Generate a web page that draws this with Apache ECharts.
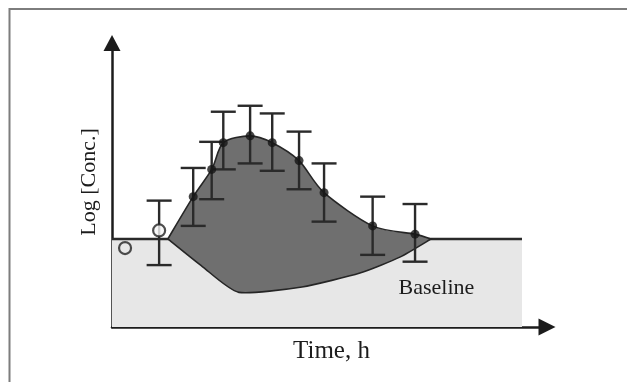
<!DOCTYPE html>
<html>
<head>
<meta charset="utf-8">
<script src="https://cdn.jsdelivr.net/npm/echarts@6.0.0/dist/echarts.min.js"></script>
<style>
html,body{margin:0;padding:0;background:#ffffff;}
#chart{width:627px;height:382px;}
</style>
</head>
<body>
<div id="chart"></div>
<script>
// ---- Data (arbitrary units) ----
const time    = [1.30, 2.24, 2.75, 3.07, 3.81, 4.42, 5.16, 5.85, 7.19, 8.36];
const conc    = [3.40, 4.59, 5.55, 6.49, 6.73, 6.49, 5.86, 4.73, 3.56, 3.27];
const errHigh = [4.45, 5.60, 6.52, 7.58, 7.79, 7.52, 6.88, 5.76, 4.59, 4.33];
const errLow  = [2.18, 3.56, 4.50, 5.55, 5.76, 5.50, 4.85, 3.71, 2.54, 2.30];

const predoseTime = [0.36];
const predoseConc = [2.78];

const baselineLevel = 3.10;
const baselineStart = 0;
const baselineEnd   = 11.31;

// Shaded response region (upper edge through the means, lower edge below baseline)
const regionUpperTime = [1.54, 2.24, 2.75, 3.07, 3.81, 4.42, 5.16, 5.85, 7.19, 8.36, 8.80];
const regionUpperConc = [3.10, 4.59, 5.55, 6.49, 6.73, 6.49, 5.86, 4.73, 3.56, 3.27, 3.10];
const regionLowerTime = [1.54, 2.50, 3.50, 5.24, 6.84, 7.94, 8.80];
const regionLowerConc = [3.10, 2.12, 1.22, 1.41, 1.90, 2.46, 3.10];

const xTitle = 'Time, h';
const yTitle = 'Log [Conc.]';
const baselineLabel = 'Baseline';
const baselineLabelPos = [8.95, 1.38];

const FONT = "'Liberation Serif', 'Times New Roman', serif";
const INK = '#1c1c1c';

// Catmull-Rom spline through pixel points -> SVG path segment commands
function splinePath(pts, moveFirst, tension) {
  let d = (moveFirst ? 'M' : 'L') + pts[0][0] + ' ' + pts[0][1];
  for (let i = 0; i < pts.length - 1; i++) {
    const p0 = pts[i - 1] || pts[i];
    const p1 = pts[i];
    const p2 = pts[i + 1];
    const p3 = pts[i + 2] || pts[i + 1];
    const t = tension;
    const c1x = p1[0] + (p2[0] - p0[0]) / 6 * t;
    const c1y = p1[1] + (p2[1] - p0[1]) / 6 * t;
    const c2x = p2[0] - (p3[0] - p1[0]) / 6 * t;
    const c2y = p2[1] - (p3[1] - p1[1]) / 6 * t;
    d += ' C' + c1x + ' ' + c1y + ' ' + c2x + ' ' + c2y + ' ' + p2[0] + ' ' + p2[1];
  }
  return d;
}

const chart = echarts.init(document.getElementById('chart'), null, {renderer: 'canvas'});

const option = {
  backgroundColor: '#ffffff',
  animation: false,
  grid: {left: 112, right: 80, top: 43, bottom: 55, containLabel: false, outerBoundsMode: 'none'},
  xAxis: {
    type: 'value', min: 0, max: 12,
    name: xTitle, nameLocation: 'middle', nameGap: 12,
    nameTextStyle: {fontFamily: FONT, fontSize: 25, color: INK, padding: [0, 0, 0, 4]},
    axisLine: {show: true, onZero: false, symbol: ['none', 'triangle'], symbolSize: [17, 17],
      lineStyle: {color: INK, width: 2.5}},
    axisTick: {show: false}, axisLabel: {show: false}, splitLine: {show: false}
  },
  yAxis: {
    type: 'value', min: 0, max: 10,
    name: yTitle, nameLocation: 'middle', nameGap: 12, nameRotate: 90,
    nameTextStyle: {fontFamily: FONT, fontSize: 22, color: INK, padding: [0, 0, 0, 6]},
    axisLine: {show: true, onZero: false, symbol: ['none', 'triangle'], symbolSize: [17, 16],
      lineStyle: {color: INK, width: 2.5}},
    axisTick: {show: false}, axisLabel: {show: false}, splitLine: {show: false}
  },
  graphic: [
    {type: 'rect', silent: true, z: 0,
     shape: {x: 9.5, y: 9, width: 700, height: 500},
     style: {fill: 'none', stroke: '#7d7d7d', lineWidth: 2}}
  ],
  series: [
    {
      name: 'Baseline', type: 'line', z: 1,
      data: [[baselineStart, baselineLevel], [baselineEnd, baselineLevel]],
      symbol: 'none',
      lineStyle: {color: '#2a2a2a', width: 2.5},
      areaStyle: {color: '#e7e7e7', opacity: 1}
    },
    {
      name: 'Response', type: 'custom', z: 2,
      data: [[regionUpperTime[0], regionUpperConc[0]]],
      renderItem: function (params, api) {
        const up = regionUpperTime.map((t, i) => api.coord([t, regionUpperConc[i]]));
        const lo = regionLowerTime.map((t, i) => api.coord([t, regionLowerConc[i]])).reverse();
        const d = splinePath(up, true, 0.85) + ' ' + splinePath(lo, false, 0.6) + ' Z';
        return {
          type: 'path',
          shape: {pathData: d},
          style: {fill: '#6f6f6f', stroke: '#262626', lineWidth: 1.6}
        };
      }
    },
    {
      name: 'Error', type: 'custom', z: 3,
      data: time.map((t, i) => [t, errLow[i], errHigh[i]]),
      renderItem: function (params, api) {
        const top = api.coord([api.value(0), api.value(2)]);
        const bot = api.coord([api.value(0), api.value(1)]);
        const hw = 12.5;
        const st = {stroke: '#2a2a2a', lineWidth: 2.4};
        return {
          type: 'group',
          children: [
            {type: 'line', shape: {x1: top[0], y1: top[1], x2: bot[0], y2: bot[1]}, style: st},
            {type: 'line', shape: {x1: top[0] - hw, y1: top[1], x2: top[0] + hw, y2: top[1]}, style: st},
            {type: 'line', shape: {x1: bot[0] - hw, y1: bot[1], x2: bot[0] + hw, y2: bot[1]}, style: st}
          ]
        };
      }
    },
    {
      name: 'Mean', type: 'scatter', z: 4,
      data: time.map((t, i) => i === 0
        ? {value: [t, conc[i]], symbolSize: 12, itemStyle: {color: '#f6f6f6', borderColor: '#222222', borderWidth: 2.2}}
        : {value: [t, conc[i]], symbolSize: 9, itemStyle: {color: '#151515'}}),
      symbol: 'circle'
    },
    {
      name: 'Predose', type: 'scatter', z: 4,
      data: predoseTime.map((t, i) => [t, predoseConc[i]]),
      symbol: 'circle', symbolSize: 12,
      itemStyle: {color: 'rgba(0,0,0,0)', borderColor: '#222222', borderWidth: 2.2}
    },
    {
      name: 'BaselineLabel', type: 'custom', z: 5,
      data: [baselineLabelPos],
      renderItem: function (params, api) {
        const p = api.coord([api.value(0), api.value(1)]);
        return {
          type: 'text',
          x: p[0], y: p[1],
          style: {text: baselineLabel, fontFamily: FONT, fontSize: 22, fill: INK,
                  align: 'center', verticalAlign: 'middle'}
        };
      }
    }
  ]
};
chart.setOption(option);
</script>
</body>
</html>
